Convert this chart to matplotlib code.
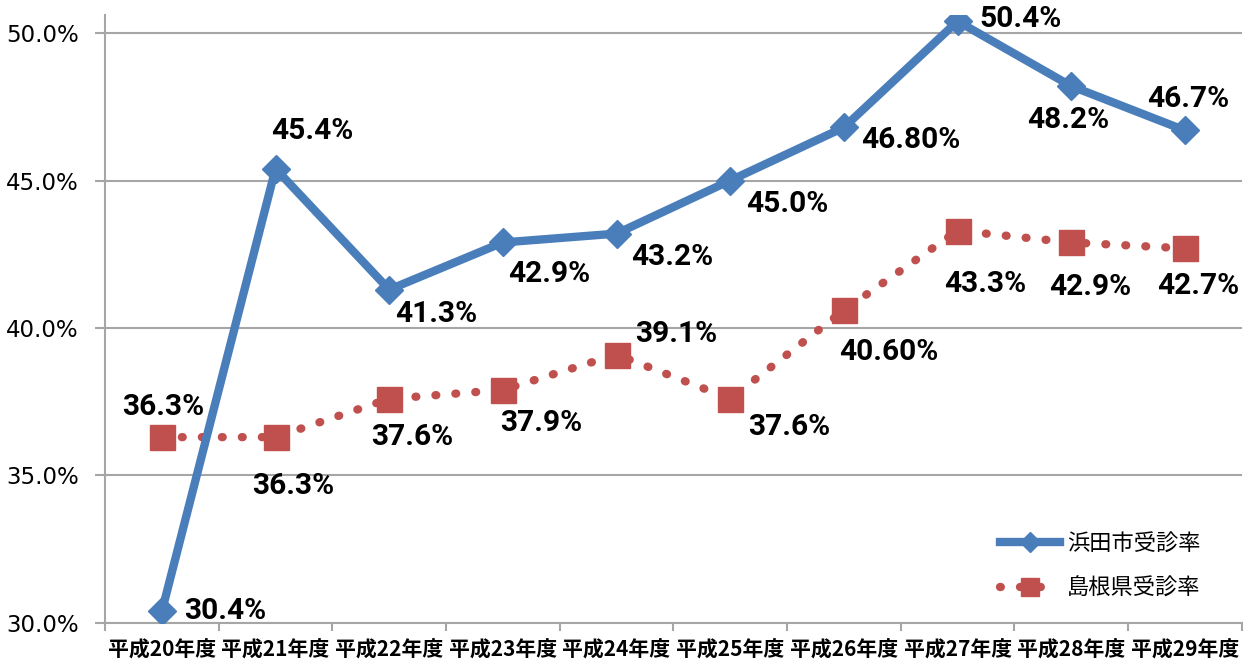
import matplotlib
matplotlib.use("Agg")
import matplotlib.pyplot as plt
from matplotlib.ticker import FixedLocator, FuncFormatter

# データ
years = ["平成20年度", "平成21年度", "平成22年度", "平成23年度", "平成24年度",
         "平成25年度", "平成26年度", "平成27年度", "平成28年度", "平成29年度"]
hamada = [30.4, 45.4, 41.3, 42.9, 43.2, 45.0, 46.8, 50.4, 48.2, 46.7]
shimane = [36.3, 36.3, 37.6, 37.9, 39.1, 37.6, 40.6, 43.3, 42.9, 42.7]
hamada_labels = ["30.4%", "45.4%", "41.3%", "42.9%", "43.2%",
                 "45.0%", "46.80%", "50.4%", "48.2%", "46.7%"]
shimane_labels = ["36.3%", "36.3%", "37.6%", "37.9%", "39.1%",
                  "37.6%", "40.60%", "43.3%", "42.9%", "42.7%"]

# ラベル位置 (pixel offset)
hamada_off = [(63, 0), (37, 38), (47, -24), (46, -32), (56, -23),
              (57, -23), (67, -13), (63, 2), (-3, -34), (3, 31)]
shimane_off = [(1, 30), (18, -49), (23, -38), (38, -33), (60, 21),
               (59, -28), (45, -42), (28, -53), (19, -45), (13, -38)]

BLUE = "#4A7EBB"
RED = "#C0504D"
GRID = "#A6A6A6"
LABEL_FONT = ["Roboto", "DejaVu Sans"]
CJK = ["Noto Sans CJK JP", "DejaVu Sans"]

fig = plt.figure(figsize=(12.43, 6.68), dpi=100)
ax = fig.add_axes([0.0845, 0.0674, 0.9145, 0.9101])

x = list(range(len(years)))
ax.plot(x, shimane, color=RED, lw=6, dashes=(0.1, 2.3), dash_capstyle="round",
        marker="s", ms=18, mec=RED, mfc=RED, label="島根県受診率", zorder=3)
ax.plot(x, hamada, color=BLUE, lw=6, marker="D", ms=14, mec=BLUE, mfc=BLUE,
        label="浜田市受診率", zorder=4)

for xi, v, t, (dx, dy) in zip(x, hamada, hamada_labels, hamada_off):
    ax.annotate(t, (xi, v), xytext=(dx, dy), textcoords="offset pixels",
                ha="center", va="center", fontsize=21.5, fontweight="bold",
                family=LABEL_FONT, zorder=6)
for xi, v, t, (dx, dy) in zip(x, shimane, shimane_labels, shimane_off):
    ax.annotate(t, (xi, v), xytext=(dx, dy), textcoords="offset pixels",
                ha="center", va="center", fontsize=21.5, fontweight="bold",
                family=LABEL_FONT, zorder=6)

ax.set_xlim(-0.5, len(years) - 0.5)
ax.set_ylim(30, 50.61)
ax.set_yticks([30, 35, 40, 45, 50])
ax.yaxis.set_major_formatter(FuncFormatter(lambda v, p: f"{v:.1f}%"))
ax.grid(axis="y", color=GRID, lw=1.5, zorder=0)

ax.set_xticks(x)
ax.set_xticklabels(years, family=CJK, fontweight="bold", fontsize=15)
ax.xaxis.set_minor_locator(FixedLocator([i - 0.5 for i in range(len(years) + 1)]))
ax.tick_params(axis="x", which="major", length=0, pad=12)
ax.tick_params(axis="x", which="minor", length=6, color=GRID, width=1.5)
ax.tick_params(axis="y", length=7, color=GRID, width=1.5, labelsize=16.5, pad=12)

for s in ["top", "right"]:
    ax.spines[s].set_visible(False)
for s in ["left", "bottom"]:
    ax.spines[s].set_color(GRID)
    ax.spines[s].set_linewidth(1.5)

handles, labels = ax.get_legend_handles_labels()
leg = ax.legend(handles[::-1], labels[::-1], loc="center left",
                bbox_to_anchor=(0.77, 0.094), frameon=False,
                prop={"family": CJK, "size": 16}, handlelength=2.7,
                handletextpad=0.3, labelspacing=0.95)
leg.legend_handles[0].set_markersize(10)
leg.legend_handles[1].set_markersize(13)

fig.savefig("out.png", dpi=100)
